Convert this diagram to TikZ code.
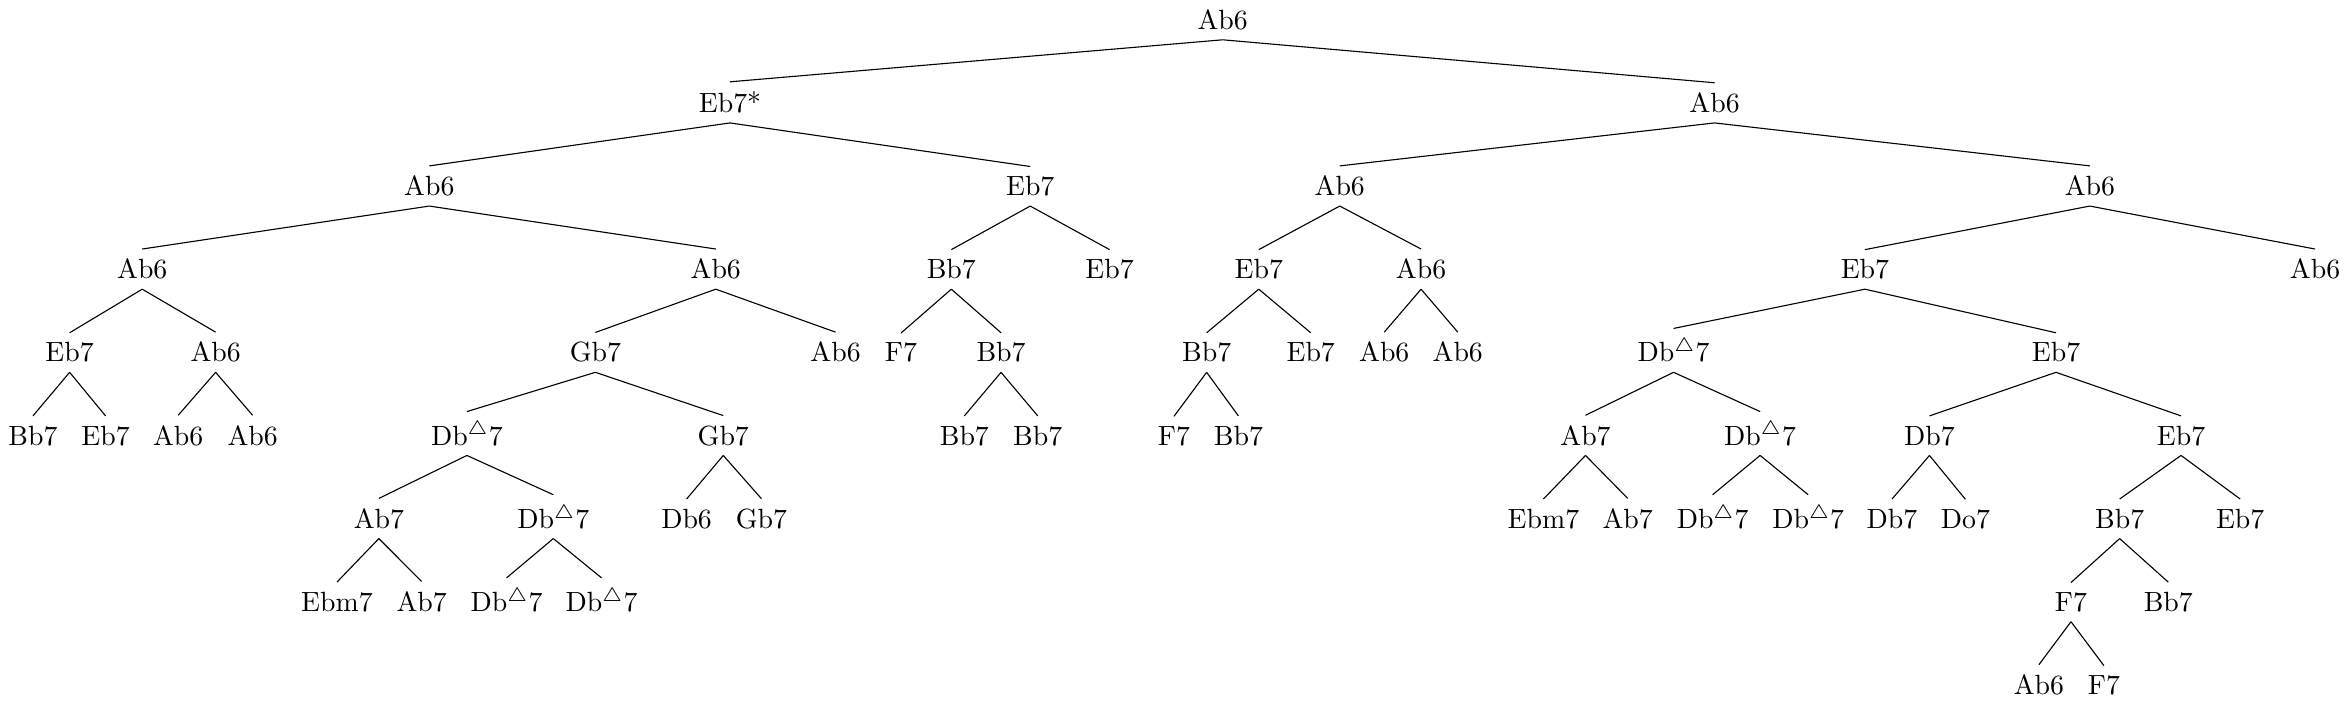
\documentclass[tikz,border=0pt]{standalone}
\begin{document}
\begin{tikzpicture}[x=0.5386pt,y=-29.9pt]
\tikzstyle{chord}=[anchor=base]
\useasboundingbox (0,-0.3532) rectangle (1568,8.092);
\path (816.5,0) node[chord](r){Ab6};

\path (487.5,1) node[chord](r0){Eb7*} (1145,1) node[chord](r1){Ab6};

\path (286.7,2) node[chord](r00){Ab6} (688,2) node[chord](r01){Eb7};
\path (894.7,2) node[chord](r10){Ab6} (1395.6,2) node[chord](r11){Ab6};

\path (95,3) node[chord](r000){Ab6} (478,3) node[chord](r001){Ab6};
\path (635.3,3) node[chord](r010){Bb7} (741,3) node[chord](r011){Eb7};
\path (840.6,3) node[chord](r100){Eb7} (949,3) node[chord](r101){Ab6};
\path (1245.4,3) node[chord](r110){Eb7} (1546,3) node[chord](r111){Ab6};

\path (46.5,4) node[chord](r0000){Eb7} (144,4) node[chord](r0001){Ab6};
\path (397.6,4) node[chord](r0010){Gb7} (558,4) node[chord](r0011){Ab6};
\path (601.6,4) node[chord](r0100){F7} (668.5,4) node[chord](r0101){Bb7};
\path (805.8,4) node[chord](r1000){Bb7} (875.3,4) node[chord](r1001){Eb7};
\path (924.4,4) node[chord](r1010){Ab6} (973.5,4) node[chord](r1011){Ab6};
\path (1117.6,4) node[chord](r1100){Db$^{\triangle}$7} (1373,4) node[chord](r1101){Eb7};

\path (22,5) node[chord](r00000){Bb7} (70.5,5) node[chord](r00001){Eb7};
\path (119,5) node[chord](r00010){Ab6} (168.7,5) node[chord](r00011){Ab6};
\path (311.8,5) node[chord](r00100){Db$^{\triangle}$7} (483,5) node[chord](r00101){Gb7};
\path (644,5) node[chord](r01010){Bb7} (693,5) node[chord](r01011){Bb7};
\path (784,5) node[chord](r10000){F7} (827,5) node[chord](r10001){Bb7};
\path (1058.8,5) node[chord](r11000){Ab7} (1175.4,5) node[chord](r11001){Db$^{\triangle}$7};
\path (1288.5,5) node[chord](r11010){Db7} (1456.5,5) node[chord](r11011){Eb7};

\path (253,6) node[chord](r001000){Ab7} (369.5,6) node[chord](r001001){Db$^{\triangle}$7};
\path (458.5,6) node[chord](r001010){Db6} (508.5,6) node[chord](r001011){Gb7};
\path (1030.7,6) node[chord](r110000){Ebm7} (1087,6) node[chord](r110001){Ab7};
\path (1143.7,6) node[chord](r110010){Db$^{\triangle}$7} (1207.5,6) node[chord](r110011){Db$^{\triangle}$7};
\path (1263.5,6) node[chord](r110100){Db7} (1312.5,6) node[chord](r110101){Do7};
\path (1415.5,6) node[chord](r110110){Bb7} (1496,6) node[chord](r110111){Eb7};

\path (225,7) node[chord](r0010000){Ebm7} (281.6,7) node[chord](r0010001){Ab7};
\path (338.3,7) node[chord](r0010010){Db$^{\triangle}$7} (401.7,7) node[chord](r0010011){Db$^{\triangle}$7};
\path (1383,7) node[chord](r1101100){F7} (1448,7) node[chord](r1101101){Bb7};

\path (1361.6,8) node[chord](r11011000){Ab6} (1405,8) node[chord](r11011001){F7};

\draw (r.south) -- (r0.north); \draw (r.south) -- (r1.north);
\draw (r0.south) -- (r00.north); \draw (r0.south) -- (r01.north);
\draw (r1.south) -- (r10.north); \draw (r1.south) -- (r11.north);
\draw (r00.south) -- (r000.north); \draw (r00.south) -- (r001.north);
\draw (r01.south) -- (r010.north); \draw (r01.south) -- (r011.north);
\draw (r10.south) -- (r100.north); \draw (r10.south) -- (r101.north);
\draw (r11.south) -- (r110.north); \draw (r11.south) -- (r111.north);
\draw (r000.south) -- (r0000.north); \draw (r000.south) -- (r0001.north);
\draw (r001.south) -- (r0010.north); \draw (r001.south) -- (r0011.north);
\draw (r010.south) -- (r0100.north); \draw (r010.south) -- (r0101.north);
\draw (r100.south) -- (r1000.north); \draw (r100.south) -- (r1001.north);
\draw (r101.south) -- (r1010.north); \draw (r101.south) -- (r1011.north);
\draw (r110.south) -- (r1100.north); \draw (r110.south) -- (r1101.north);
\draw (r0000.south) -- (r00000.north); \draw (r0000.south) -- (r00001.north);
\draw (r0001.south) -- (r00010.north); \draw (r0001.south) -- (r00011.north);
\draw (r0010.south) -- (r00100.north); \draw (r0010.south) -- (r00101.north);
\draw (r0101.south) -- (r01010.north); \draw (r0101.south) -- (r01011.north);
\draw (r1000.south) -- (r10000.north); \draw (r1000.south) -- (r10001.north);
\draw (r1100.south) -- (r11000.north); \draw (r1100.south) -- (r11001.north);
\draw (r1101.south) -- (r11010.north); \draw (r1101.south) -- (r11011.north);
\draw (r00100.south) -- (r001000.north); \draw (r00100.south) -- (r001001.north);
\draw (r00101.south) -- (r001010.north); \draw (r00101.south) -- (r001011.north);
\draw (r11000.south) -- (r110000.north); \draw (r11000.south) -- (r110001.north);
\draw (r11001.south) -- (r110010.north); \draw (r11001.south) -- (r110011.north);
\draw (r11010.south) -- (r110100.north); \draw (r11010.south) -- (r110101.north);
\draw (r11011.south) -- (r110110.north); \draw (r11011.south) -- (r110111.north);
\draw (r001000.south) -- (r0010000.north); \draw (r001000.south) -- (r0010001.north);
\draw (r001001.south) -- (r0010010.north); \draw (r001001.south) -- (r0010011.north);
\draw (r110110.south) -- (r1101100.north); \draw (r110110.south) -- (r1101101.north);
\draw (r1101100.south) -- (r11011000.north); \draw (r1101100.south) -- (r11011001.north);
\end{tikzpicture}
\end{document}
